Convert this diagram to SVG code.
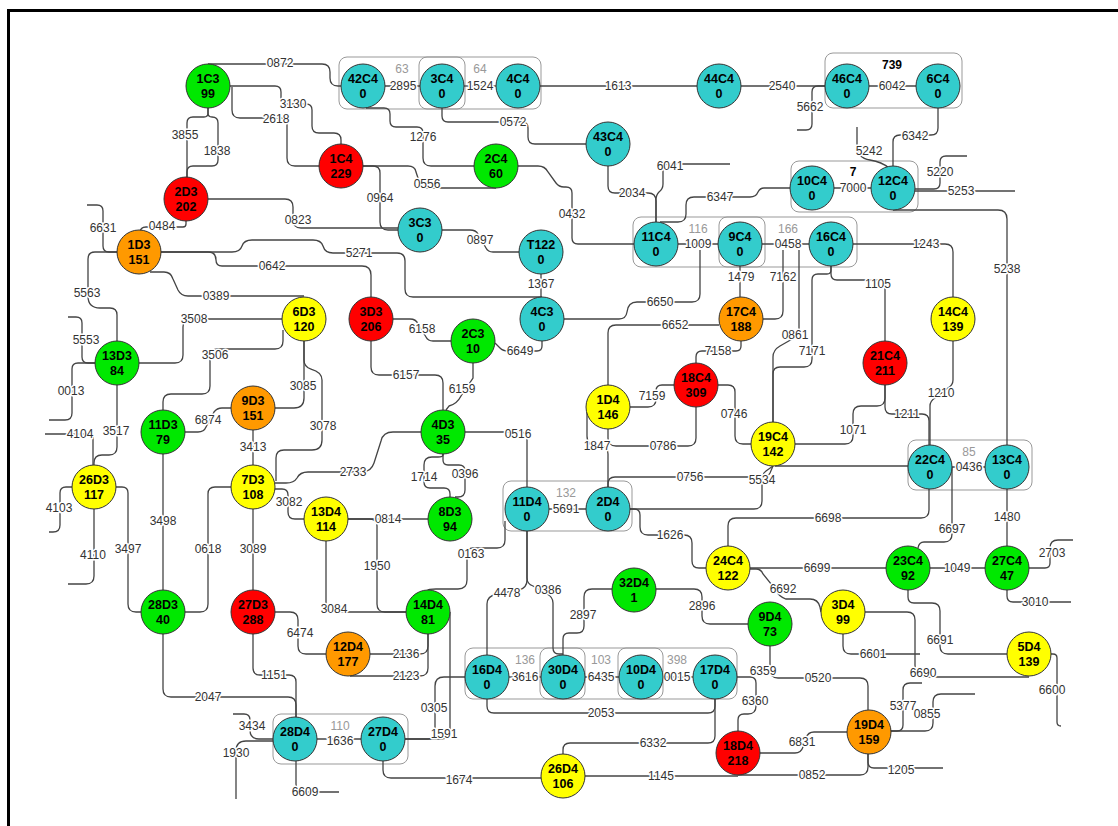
<svg xmlns="http://www.w3.org/2000/svg" width="1118" height="826" viewBox="0 0 1118 826">
<style>
.e path{fill:none;stroke:#444;stroke-width:1.3}
.n circle{stroke:#333;stroke-width:1}
.n text{font-family:"Liberation Sans",Arial,sans-serif;font-weight:bold;font-size:12.5px;fill:#000;text-anchor:middle;dominant-baseline:central}
.l{font-family:"Liberation Sans",Arial,sans-serif;font-size:12px;fill:#333;text-anchor:middle;dominant-baseline:central;paint-order:stroke;stroke:#fff;stroke-width:3px;stroke-linejoin:round}
.gb{fill:none;stroke:#999;stroke-width:1}
.gl{font-family:"Liberation Sans",Arial,sans-serif;font-size:12px;fill:#999;text-anchor:middle;dominant-baseline:central}
.gk{font-family:"Liberation Sans",Arial,sans-serif;font-size:12px;font-weight:bold;fill:#000;text-anchor:middle;dominant-baseline:central}
.G{fill:#00e800}.R{fill:#ff0000}.O{fill:#ff9900}.Y{fill:#ffff00}.C{fill:#33cccc}
</style>
<rect x="0" y="0" width="1118" height="826" fill="#fff"/>
<rect x="8.5" y="10.5" width="1200" height="900" fill="none" stroke="#000" stroke-width="3"/>
<g id="groups">
<rect class="gb" x="339" y="57" width="126" height="52" rx="8"/>
<rect class="gb" x="419" y="57" width="122" height="52" rx="8"/>
<rect class="gb" x="825" y="53" width="137" height="55" rx="8"/>
<rect class="gb" x="791" y="161" width="127" height="51" rx="8"/>
<rect class="gb" x="633" y="217" width="132" height="50" rx="8"/>
<rect class="gb" x="719" y="217" width="138" height="50" rx="8"/>
<rect class="gb" x="908" y="440" width="124" height="50" rx="8"/>
<rect class="gb" x="503" y="481" width="129" height="50" rx="8"/>
<rect class="gb" x="273" y="714" width="135" height="50" rx="8"/>
<rect class="gb" x="465" y="648" width="120" height="51" rx="8"/>
<rect class="gb" x="540" y="648" width="123" height="51" rx="8"/>
<rect class="gb" x="618" y="648" width="119" height="51" rx="8"/>
<text class="gl" x="402" y="69">63</text>
<text class="gl" x="480" y="69">64</text>
<text class="gk" x="892" y="65">739</text>
<text class="gk" x="853" y="172">7</text>
<text class="gl" x="698" y="229">116</text>
<text class="gl" x="788" y="229">166</text>
<text class="gl" x="969" y="452">85</text>
<text class="gl" x="566" y="493">132</text>
<text class="gl" x="340" y="726">110</text>
<text class="gl" x="525" y="660">136</text>
<text class="gl" x="601" y="660">103</text>
<text class="gl" x="677" y="660">398</text>
</g>
<g id="connectors" class="e">
<path d="M208,64 H322 q8,0 8,8 V78 q0,8 8,8 H341"/>
<path d="M230,86 H275 q6,0 6,6 V98 q0,6 6,6 H306 q6,0 6,6 V126 q0,7 7,7 H334 q7,0 7,7 V144"/>
<path d="M232,87 V110 q0,8 8,8 H281 q6,0 6,6 V158 q0,8 8,8 H320"/>
<path d="M208,108 V113 q0,4 -4,4 H193 q-6,0 -6,6 V178"/>
<path d="M208,108 V113 q0,4 4,4 H212 q6,0 6,6 V160 q0,6 -6,6 H193 q-6,0 -6,6 V178"/>
<path d="M186,221 V224 q0,3 -3,3 H146 q-6,0 -6,6"/>
<path d="M117,252 H109 q-6,0 -6,-6 V211 q0,-6 -6,-6 H87"/>
<path d="M208,199 H285 q8,0 8,8 V220 q0,8 8,8 H398"/>
<path d="M363,166 H408 q7,0 8,6 L420,184 q1,4 6,4 H496"/>
<path d="M363,166 H373 q7,0 7,7 V222 q0,8 8,8 H398"/>
<path d="M385,86 H420"/>
<path d="M464,86 H496"/>
<path d="M540,86 H697"/>
<path d="M741,86 H825"/>
<path d="M869,86 H916"/>
<path d="M825,86 H818 q-6,0 -6,6 V124 q0,6 -6,6 H797"/>
<path d="M366,108 H384 q6,0 6,6 V121 q0,6 6,6 H417 q6,0 6,6 V158 q0,8 8,8 H474"/>
<path d="M442,108 V116 q0,6 6,6 H522 q6,0 6,6 V137 q0,7 7,7 H586"/>
<path d="M518,166 H538 q7,0 10,6 L556,183 q3,4 8,4 H566 q6,0 6,6 V238 q0,6 6,6 H634"/>
<path d="M608,166 V186 q0,7 7,7 H648 q8,0 8,8 V222"/>
<path d="M656,222 V200 q0,-5 3,-8 q4,-3 4,-8 V170 q0,-6 6,-6 H730"/>
<path d="M660,222 H678 q8,0 8,-8 V205 q0,-8 8,-8 H750 q6,0 8,-5 q2,-4 6,-4 H790"/>
<path d="M834,188 H871"/>
<path d="M938,108 V128 q0,7 -7,7 H900 q-7,0 -7,7 V166"/>
<path d="M857,127 V145 Q857,158 870,160 Q882,162 889,168"/>
<path d="M915,189 H934 q6,0 6,-6 V162 q0,-6 6,-6 H967"/>
<path d="M915,191 H1015"/>
<path d="M893,210 H998 q9,0 9,9 V445"/>
<path d="M853,244 H945 q8,0 8,8 V297"/>
<path d="M678,244 H718"/>
<path d="M762,244 H809"/>
<path d="M740,266 V297"/>
<path d="M783,250 V311 q0,8 -8,8 H763"/>
<path d="M799,250 V329 q0,6 -5,9 L780,346 q-7,4 -7,11 V423"/>
<path d="M831,266 V270 q0,4 -4,4 H818 q-6,0 -6,6 V359 q0,8 -8,8 H780 q-7,0 -7,7 V423"/>
<path d="M831,266 V274 q0,6 6,6 H879 q6,0 6,6 V341"/>
<path d="M563,319 H619 q7,0 8,-7 q1,-10 10,-10 H692 q8,0 8,-8 V250"/>
<path d="M719,325 H616 q-8,0 -8,8 V385"/>
<path d="M741,341 V346 q0,5 -5,5 H702 q-6,0 -6,6 V363"/>
<path d="M674,385 H662 q-6,0 -6,6 V399 q0,8 -8,8 H630"/>
<path d="M718,385 H728 q7,0 7,7 V436 q0,8 8,8 H751"/>
<path d="M696,407 V438 q0,8 -8,8 H616 q-8,0 -8,-8 V429"/>
<path d="M587,412 V436 q0,10 10,10 H600 q8,0 8,8 V487"/>
<path d="M608,487 V484 q0,-7 7,-7 H760 q8,0 10,-4 L773,466"/>
<path d="M630,509 H754 q8,0 8,-8 V480 q0,-6 4,-9 L773,466"/>
<path d="M775,466 H908"/>
<path d="M795,444 H845 q8,0 8,-8 V414 q0,-8 8,-8 H877 q8,0 8,-8 V385"/>
<path d="M885,385 V407 q0,7 7,7 H922 q7,0 7,7 V445"/>
<path d="M953,341 V380 q0,5 -5,8 L935,398 q-5,3 -5,8 V445"/>
<path d="M951,467 H985"/>
<path d="M952,467 V534 q0,8 -8,8 H924 q-5,0 -6,6"/>
<path d="M929,489 V510 q0,8 -8,8 H736 q-8,0 -8,8 V546"/>
<path d="M1007,489 V546"/>
<path d="M549,509 H586"/>
<path d="M465,432 H520 q7,0 7,7 V487"/>
<path d="M304,341 V398 q0,10 -10,10 H275"/>
<path d="M304,341 V360 q0,7 7,9 q11,3 11,11 V440 q0,10 -10,10 H284 q-8,0 -8,8 V481"/>
<path d="M275,489 H282 q6,0 6,6 V512 q0,7 7,7 H304"/>
<path d="M421,432 H393 q-10,0 -12,9 L374,463 q-3,9 -12,9 H308 q-8,0 -11,6 q-3,5 -11,5 H275"/>
<path d="M443,454 V455 q0,2 -5,2 H432 q-8,0 -8,8 V482 q0,6 6,6 H444 q6,0 6,6 V497"/>
<path d="M443,454 V460 q0,5 5,5 H459 q6,0 6,6 V490 q0,7 -7,7 H455"/>
<path d="M371,341 V367 q0,8 8,8 H435 q8,0 8,8 V410"/>
<path d="M473,363 V378 L461,396 q-4,8 -12,10 L446,410"/>
<path d="M393,319 H410 q6,0 8,5 L426,337 q2,4 7,4 H451"/>
<path d="M542,341 V346 q0,5 -5,5 H508 q-5,0 -8,-3 L495,343"/>
<path d="M541,274 V297"/>
<path d="M442,230 H470 q6,0 8,4 L486,248 q2,4 7,4 H519"/>
<path d="M161,252 H232 q8,0 10,-6 q2,-6 10,-6 H313 q8,0 10,6 q2,7 10,7 H397 q8,0 8,8 V289 q0,8 8,8 H542"/>
<path d="M161,252 H208 q8,0 8,8 q0,6 6,6 H362 q9,0 9,9 V297"/>
<path d="M150,272 H164 q7,0 9,7 L178,290 q3,6 10,6 H304"/>
<path d="M139,363 H175 q8,0 8,-8 V327 q0,-8 8,-8 H282"/>
<path d="M283,330 V341 q0,8 -8,8 H218 q-8,0 -8,8 V386 q0,8 -8,8 H171 q-8,0 -8,8 V410"/>
<path d="M185,432 H198 q6,0 8,-5 L214,412 q3,-4 8,-4 H231"/>
<path d="M117,252 H95 q-7,0 -7,7 V296 q0,12 12,12 H110 q7,0 7,7 V341"/>
<path d="M95,363 H88 q-6,0 -6,-6 V323 q0,-6 -6,-6 H68"/>
<path d="M95,363 H78 q-6,0 -6,6 V413 q0,7 -7,7 H49"/>
<path d="M117,385 V447 q0,8 -8,8 H102 q-8,0 -8,8 V465"/>
<path d="M45,434 H90 q3,0 3,3 V465"/>
<path d="M72,487 H66 q-6,0 -6,6 V525 q0,7 -7,7 H49"/>
<path d="M116,487 H122 q6,0 6,6 V604 q0,8 8,8 H141"/>
<path d="M94,509 V576 q0,8 -8,8 H68"/>
<path d="M163,454 V590"/>
<path d="M231,487 H215 q-7,0 -7,7 V604 q0,8 -8,8 H185"/>
<path d="M253,509 V590"/>
<path d="M253,430 V465"/>
<path d="M275,612 H290 q8,0 8,8 V646 q0,8 8,8 H326"/>
<path d="M253,634 V668 q0,7 7,7 H289 q7,0 7,7 V717"/>
<path d="M163,634 V689 q0,8 8,8 H288 q8,0 8,8 V717"/>
<path d="M233,714 H244 q6,0 6,6 V730 q0,9 9,9 H273"/>
<path d="M273,741 H246 q-10,0 -10,10 V799"/>
<path d="M296,761 V784 q0,8 8,8 H339"/>
<path d="M317,739 H361"/>
<path d="M383,761 V770 q0,8 8,8 H541"/>
<path d="M405,739 H428 q7,0 7,-7 V686 q0,-9 9,-9 H465"/>
<path d="M450,612 V730 q0,9 -9,9 H405"/>
<path d="M348,519 H370 q7,0 7,7 V604 q0,8 8,8 H406"/>
<path d="M348,519 H428"/>
<path d="M326,541 V604 q0,8 8,8 H406"/>
<path d="M505,521 V540 q0,8 -8,8 H473 q-6,0 -6,6 V580 q0,9 -9,9 H436 q-8,0 -8,1"/>
<path d="M370,654 H420 q8,0 8,-8 V634"/>
<path d="M350,676 H420 q8,0 8,-8 V634"/>
<path d="M527,531 V580 q0,8 -8,10 L497,594 q-10,2 -10,10 V655"/>
<path d="M527,531 V578 q0,6 6,8 L547,594 q6,3 6,9 V648 q0,6 6,6 H563"/>
<path d="M612,589 H592 q-8,0 -8,8 V626 q0,7 -7,7 H569 q-6,0 -6,6 V655"/>
<path d="M656,589 H694 q8,0 8,8 V616 q0,8 8,8 H748"/>
<path d="M585,677 H619"/>
<path d="M663,677 H693"/>
<path d="M509,677 H541"/>
<path d="M487,699 V706 q0,7 7,7 H708 q7,0 7,-7 V699"/>
<path d="M715,699 V736 q0,7 -7,7 H570 q-7,0 -7,7 V754"/>
<path d="M585,776 H738"/>
<path d="M738,775 H860 q8,0 8,-8 V754"/>
<path d="M737,677 H750 q6,0 6,6 V706 q0,8 -8,8 H744 q-6,0 -6,6 V731"/>
<path d="M770,646 V670 q0,8 8,8 H860 q8,0 8,8 V710"/>
<path d="M760,753 H795 q6,0 8,-6 L806,738 q2,-6 8,-6 H847"/>
<path d="M750,568 H886"/>
<path d="M930,568 H985"/>
<path d="M1029,568 H1045 q5,0 5,-5 V548 q0,-8 8,-8 H1073"/>
<path d="M1007,590 V596 q0,6 6,6 H1071"/>
<path d="M908,590 V597 q0,6 6,6 H932 q8,0 8,8 V646 q0,8 8,8 H1007"/>
<path d="M843,634 V646 q0,8 8,8 H920"/>
<path d="M865,612 H907 q8,0 8,8 V665 q0,12 12,12 H1029"/>
<path d="M1051,654 H1053 q4,0 4,4 V722 q0,4 4,4"/>
<path d="M890,731 H897 q6,0 6,-6 V690 q0,-7 7,-7 H922"/>
<path d="M890,731 H925 q8,0 8,-8 V702 q0,-8 8,-8 H975"/>
<path d="M868,754 V762 q0,6 6,6 H943"/>
<path d="M630,509 H634 q6,0 6,6 V527 q0,8 8,8 H684 q8,0 8,8 V561 q0,7 7,7 H706"/>
<path d="M750,569 H756 q5,0 7,5 L776,590 q3,7 10,9 H810 q8,0 10,8 L821,612"/>
</g>
<g id="edge-labels">
<text class="l" x="280" y="63">0872</text>
<text class="l" x="293" y="104">3130</text>
<text class="l" x="276" y="119">2618</text>
<text class="l" x="185" y="135">3855</text>
<text class="l" x="217" y="151">1838</text>
<text class="l" x="162" y="226">0484</text>
<text class="l" x="103" y="228">6631</text>
<text class="l" x="298" y="220">0823</text>
<text class="l" x="427" y="184">0556</text>
<text class="l" x="380" y="198">0964</text>
<text class="l" x="403" y="86">2895</text>
<text class="l" x="480" y="86">1524</text>
<text class="l" x="618" y="86">1613</text>
<text class="l" x="782" y="86">2540</text>
<text class="l" x="892" y="86">6042</text>
<text class="l" x="810" y="107">5662</text>
<text class="l" x="423" y="137">1276</text>
<text class="l" x="513" y="122">0572</text>
<text class="l" x="572" y="214">0432</text>
<text class="l" x="632" y="193">2034</text>
<text class="l" x="670" y="166">6041</text>
<text class="l" x="720" y="197">6347</text>
<text class="l" x="853" y="188">7000</text>
<text class="l" x="915" y="136">6342</text>
<text class="l" x="869" y="151">5242</text>
<text class="l" x="940" y="172">5220</text>
<text class="l" x="961" y="191">5253</text>
<text class="l" x="1007" y="269">5238</text>
<text class="l" x="926" y="244">1243</text>
<text class="l" x="698" y="244">1009</text>
<text class="l" x="788" y="244">0458</text>
<text class="l" x="741" y="277">1479</text>
<text class="l" x="783" y="277">7162</text>
<text class="l" x="795" y="335">0861</text>
<text class="l" x="812" y="351">7171</text>
<text class="l" x="878" y="284">1105</text>
<text class="l" x="660" y="302">6650</text>
<text class="l" x="675" y="325">6652</text>
<text class="l" x="718" y="351">7158</text>
<text class="l" x="652" y="396">7159</text>
<text class="l" x="734" y="414">0746</text>
<text class="l" x="663" y="446">0786</text>
<text class="l" x="597" y="446">1847</text>
<text class="l" x="690" y="477">0756</text>
<text class="l" x="762" y="480">5534</text>
<text class="l" x="853" y="430">1071</text>
<text class="l" x="907" y="414">1211</text>
<text class="l" x="941" y="393">1210</text>
<text class="l" x="969" y="467">0436</text>
<text class="l" x="952" y="529">6697</text>
<text class="l" x="828" y="518">6698</text>
<text class="l" x="1007" y="517">1480</text>
<text class="l" x="566" y="509">5691</text>
<text class="l" x="518" y="434">0516</text>
<text class="l" x="303" y="386">3085</text>
<text class="l" x="323" y="426">3078</text>
<text class="l" x="289" y="502">3082</text>
<text class="l" x="353" y="472">2733</text>
<text class="l" x="424" y="477">1714</text>
<text class="l" x="465" y="474">0396</text>
<text class="l" x="406" y="375">6157</text>
<text class="l" x="462" y="389">6159</text>
<text class="l" x="422" y="329">6158</text>
<text class="l" x="520" y="351">6649</text>
<text class="l" x="541" y="284">1367</text>
<text class="l" x="480" y="240">0897</text>
<text class="l" x="359" y="253">5271</text>
<text class="l" x="272" y="266">0642</text>
<text class="l" x="216" y="296">0389</text>
<text class="l" x="194" y="319">3508</text>
<text class="l" x="215" y="355">3506</text>
<text class="l" x="208" y="420">6874</text>
<text class="l" x="87" y="293">5563</text>
<text class="l" x="86" y="340">5553</text>
<text class="l" x="71" y="391">0013</text>
<text class="l" x="116" y="431">3517</text>
<text class="l" x="80" y="434">4104</text>
<text class="l" x="59" y="508">4103</text>
<text class="l" x="128" y="549">3497</text>
<text class="l" x="93" y="555">4110</text>
<text class="l" x="163" y="521">3498</text>
<text class="l" x="208" y="549">0618</text>
<text class="l" x="253" y="549">3089</text>
<text class="l" x="253" y="447">3413</text>
<text class="l" x="300" y="633">6474</text>
<text class="l" x="274" y="675">1151</text>
<text class="l" x="208" y="697">2047</text>
<text class="l" x="252" y="726">3434</text>
<text class="l" x="236" y="753">1930</text>
<text class="l" x="305" y="792">6609</text>
<text class="l" x="340" y="741">1636</text>
<text class="l" x="459" y="780">1674</text>
<text class="l" x="434" y="708">0305</text>
<text class="l" x="444" y="734">1591</text>
<text class="l" x="377" y="566">1950</text>
<text class="l" x="388" y="519">0814</text>
<text class="l" x="334" y="609">3084</text>
<text class="l" x="471" y="554">0163</text>
<text class="l" x="406" y="654">2136</text>
<text class="l" x="406" y="676">2123</text>
<text class="l" x="507" y="593">4478</text>
<text class="l" x="548" y="590">0386</text>
<text class="l" x="583" y="615">2897</text>
<text class="l" x="702" y="606">2896</text>
<text class="l" x="601" y="677">6435</text>
<text class="l" x="677" y="677">0015</text>
<text class="l" x="525" y="677">3616</text>
<text class="l" x="601" y="713">2053</text>
<text class="l" x="653" y="743">6332</text>
<text class="l" x="661" y="776">1145</text>
<text class="l" x="812" y="775">0852</text>
<text class="l" x="755" y="701">6360</text>
<text class="l" x="763" y="671">6359</text>
<text class="l" x="818" y="678">0520</text>
<text class="l" x="802" y="742">6831</text>
<text class="l" x="817" y="568">6699</text>
<text class="l" x="957" y="568">1049</text>
<text class="l" x="1052" y="553">2703</text>
<text class="l" x="1035" y="602">3010</text>
<text class="l" x="940" y="640">6691</text>
<text class="l" x="873" y="654">6601</text>
<text class="l" x="923" y="673">6690</text>
<text class="l" x="1052" y="690">6600</text>
<text class="l" x="903" y="706">5377</text>
<text class="l" x="927" y="714">0855</text>
<text class="l" x="901" y="770">1205</text>
<text class="l" x="670" y="535">1626</text>
<text class="l" x="783" y="589">6692</text>
</g>
<g id="nodes" class="n">
<g id="n-1C3"><circle class="G" cx="208" cy="86" r="22"/><text x="208" y="79">1C3</text><text x="208" y="94">99</text></g>
<g id="n-42C4"><circle class="C" cx="363" cy="86" r="22"/><text x="363" y="79">42C4</text><text x="363" y="94">0</text></g>
<g id="n-3C4"><circle class="C" cx="442" cy="86" r="22"/><text x="442" y="79">3C4</text><text x="442" y="94">0</text></g>
<g id="n-4C4"><circle class="C" cx="518" cy="86" r="22"/><text x="518" y="79">4C4</text><text x="518" y="94">0</text></g>
<g id="n-44C4"><circle class="C" cx="719" cy="86" r="22"/><text x="719" y="79">44C4</text><text x="719" y="94">0</text></g>
<g id="n-46C4"><circle class="C" cx="847" cy="86" r="22"/><text x="847" y="79">46C4</text><text x="847" y="94">0</text></g>
<g id="n-6C4"><circle class="C" cx="938" cy="86" r="22"/><text x="938" y="79">6C4</text><text x="938" y="94">0</text></g>
<g id="n-1C4"><circle class="R" cx="341" cy="166" r="22"/><text x="341" y="159">1C4</text><text x="341" y="174">229</text></g>
<g id="n-2C4"><circle class="G" cx="496" cy="166" r="22"/><text x="496" y="159">2C4</text><text x="496" y="174">60</text></g>
<g id="n-43C4"><circle class="C" cx="608" cy="144" r="22"/><text x="608" y="137">43C4</text><text x="608" y="152">0</text></g>
<g id="n-2D3"><circle class="R" cx="186" cy="199" r="22"/><text x="186" y="192">2D3</text><text x="186" y="207">202</text></g>
<g id="n-3C3"><circle class="C" cx="420" cy="230" r="22"/><text x="420" y="223">3C3</text><text x="420" y="238">0</text></g>
<g id="n-T122"><circle class="C" cx="541" cy="252" r="22"/><text x="541" y="245">T122</text><text x="541" y="260">0</text></g>
<g id="n-10C4"><circle class="C" cx="812" cy="188" r="22"/><text x="812" y="181">10C4</text><text x="812" y="196">0</text></g>
<g id="n-12C4"><circle class="C" cx="893" cy="188" r="22"/><text x="893" y="181">12C4</text><text x="893" y="196">0</text></g>
<g id="n-1D3"><circle class="O" cx="139" cy="252" r="22"/><text x="139" y="245">1D3</text><text x="139" y="260">151</text></g>
<g id="n-11C4"><circle class="C" cx="656" cy="244" r="22"/><text x="656" y="237">11C4</text><text x="656" y="252">0</text></g>
<g id="n-9C4"><circle class="C" cx="740" cy="244" r="22"/><text x="740" y="237">9C4</text><text x="740" y="252">0</text></g>
<g id="n-16C4"><circle class="C" cx="831" cy="244" r="22"/><text x="831" y="237">16C4</text><text x="831" y="252">0</text></g>
<g id="n-6D3"><circle class="Y" cx="304" cy="319" r="22"/><text x="304" y="312">6D3</text><text x="304" y="327">120</text></g>
<g id="n-3D3"><circle class="R" cx="371" cy="319" r="22"/><text x="371" y="312">3D3</text><text x="371" y="327">206</text></g>
<g id="n-2C3"><circle class="G" cx="473" cy="341" r="22"/><text x="473" y="334">2C3</text><text x="473" y="349">10</text></g>
<g id="n-4C3"><circle class="C" cx="542" cy="319" r="22"/><text x="542" y="312">4C3</text><text x="542" y="327">0</text></g>
<g id="n-17C4"><circle class="O" cx="741" cy="319" r="22"/><text x="741" y="312">17C4</text><text x="741" y="327">188</text></g>
<g id="n-14C4"><circle class="Y" cx="953" cy="319" r="22"/><text x="953" y="312">14C4</text><text x="953" y="327">139</text></g>
<g id="n-13D3"><circle class="G" cx="117" cy="363" r="22"/><text x="117" y="356">13D3</text><text x="117" y="371">84</text></g>
<g id="n-18C4"><circle class="R" cx="696" cy="385" r="22"/><text x="696" y="378">18C4</text><text x="696" y="393">309</text></g>
<g id="n-21C4"><circle class="R" cx="885" cy="363" r="22"/><text x="885" y="356">21C4</text><text x="885" y="371">211</text></g>
<g id="n-11D3"><circle class="G" cx="163" cy="432" r="22"/><text x="163" y="425">11D3</text><text x="163" y="440">79</text></g>
<g id="n-9D3"><circle class="O" cx="253" cy="408" r="22"/><text x="253" y="401">9D3</text><text x="253" y="416">151</text></g>
<g id="n-4D3"><circle class="G" cx="443" cy="432" r="22"/><text x="443" y="425">4D3</text><text x="443" y="440">35</text></g>
<g id="n-1D4"><circle class="Y" cx="608" cy="407" r="22"/><text x="608" y="400">1D4</text><text x="608" y="415">146</text></g>
<g id="n-19C4"><circle class="Y" cx="773" cy="444" r="22"/><text x="773" y="437">19C4</text><text x="773" y="452">142</text></g>
<g id="n-26D3"><circle class="Y" cx="94" cy="487" r="22"/><text x="94" y="480">26D3</text><text x="94" y="495">117</text></g>
<g id="n-7D3"><circle class="Y" cx="253" cy="487" r="22"/><text x="253" y="480">7D3</text><text x="253" y="495">108</text></g>
<g id="n-13D4"><circle class="Y" cx="326" cy="519" r="22"/><text x="326" y="512">13D4</text><text x="326" y="527">114</text></g>
<g id="n-8D3"><circle class="G" cx="450" cy="519" r="22"/><text x="450" y="512">8D3</text><text x="450" y="527">94</text></g>
<g id="n-22C4"><circle class="C" cx="930" cy="467" r="22"/><text x="930" y="460">22C4</text><text x="930" y="475">0</text></g>
<g id="n-13C4"><circle class="C" cx="1007" cy="467" r="22"/><text x="1007" y="460">13C4</text><text x="1007" y="475">0</text></g>
<g id="n-11D4"><circle class="C" cx="527" cy="509" r="22"/><text x="527" y="502">11D4</text><text x="527" y="517">0</text></g>
<g id="n-2D4"><circle class="C" cx="608" cy="509" r="22"/><text x="608" y="502">2D4</text><text x="608" y="517">0</text></g>
<g id="n-24C4"><circle class="Y" cx="728" cy="568" r="22"/><text x="728" y="561">24C4</text><text x="728" y="576">122</text></g>
<g id="n-23C4"><circle class="G" cx="908" cy="568" r="22"/><text x="908" y="561">23C4</text><text x="908" y="576">92</text></g>
<g id="n-27C4"><circle class="G" cx="1007" cy="568" r="22"/><text x="1007" y="561">27C4</text><text x="1007" y="576">47</text></g>
<g id="n-28D3"><circle class="G" cx="163" cy="612" r="22"/><text x="163" y="605">28D3</text><text x="163" y="620">40</text></g>
<g id="n-27D3"><circle class="R" cx="253" cy="612" r="22"/><text x="253" y="605">27D3</text><text x="253" y="620">288</text></g>
<g id="n-14D4"><circle class="G" cx="428" cy="612" r="22"/><text x="428" y="605">14D4</text><text x="428" y="620">81</text></g>
<g id="n-32D4"><circle class="G" cx="634" cy="590" r="22"/><text x="634" y="583">32D4</text><text x="634" y="598">1</text></g>
<g id="n-3D4"><circle class="Y" cx="843" cy="612" r="22"/><text x="843" y="605">3D4</text><text x="843" y="620">99</text></g>
<g id="n-12D4"><circle class="O" cx="348" cy="654" r="22"/><text x="348" y="647">12D4</text><text x="348" y="662">177</text></g>
<g id="n-9D4"><circle class="G" cx="770" cy="624" r="22"/><text x="770" y="617">9D4</text><text x="770" y="632">73</text></g>
<g id="n-5D4"><circle class="Y" cx="1029" cy="654" r="22"/><text x="1029" y="647">5D4</text><text x="1029" y="662">139</text></g>
<g id="n-16D4"><circle class="C" cx="487" cy="677" r="22"/><text x="487" y="670">16D4</text><text x="487" y="685">0</text></g>
<g id="n-30D4"><circle class="C" cx="563" cy="677" r="22"/><text x="563" y="670">30D4</text><text x="563" y="685">0</text></g>
<g id="n-10D4"><circle class="C" cx="641" cy="677" r="22"/><text x="641" y="670">10D4</text><text x="641" y="685">0</text></g>
<g id="n-17D4"><circle class="C" cx="715" cy="677" r="22"/><text x="715" y="670">17D4</text><text x="715" y="685">0</text></g>
<g id="n-19D4"><circle class="O" cx="869" cy="732" r="22"/><text x="869" y="725">19D4</text><text x="869" y="740">159</text></g>
<g id="n-28D4"><circle class="C" cx="295" cy="739" r="22"/><text x="295" y="732">28D4</text><text x="295" y="747">0</text></g>
<g id="n-27D4"><circle class="C" cx="383" cy="739" r="22"/><text x="383" y="732">27D4</text><text x="383" y="747">0</text></g>
<g id="n-18D4"><circle class="R" cx="738" cy="753" r="22"/><text x="738" y="746">18D4</text><text x="738" y="761">218</text></g>
<g id="n-26D4"><circle class="Y" cx="563" cy="776" r="22"/><text x="563" y="769">26D4</text><text x="563" y="784">106</text></g>
</g>
</svg>
